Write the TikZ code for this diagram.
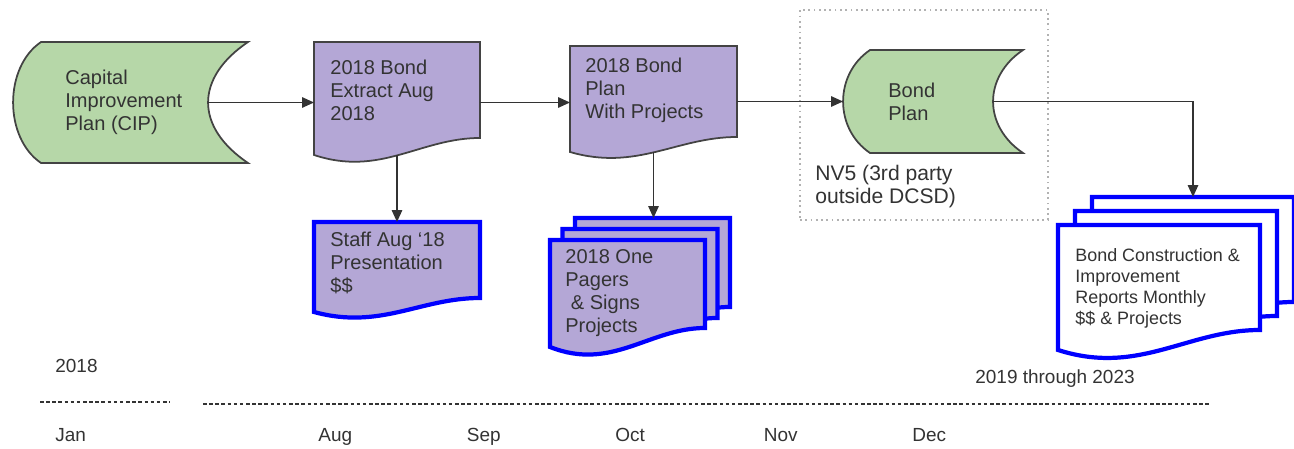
\documentclass[tikz,border=0pt]{standalone}
\usepackage{fontspec}
\setmainfont{Liberation Sans}
\usepackage{tikz}
\usetikzlibrary{calc, arrows.meta}
\definecolor{cipgreen}{RGB}{182,215,168}
\definecolor{bondpurple}{RGB}{180,167,214}
\definecolor{edgegray}{RGB}{67,67,67}
\definecolor{docblue}{RGB}{0,0,255}
\definecolor{txtgray}{RGB}{51,51,51}
\tikzstyle{box} = [rectangle, inner sep=0pt, outer sep=0pt]
\tikzstyle{stored} = [fill=cipgreen, draw=edgegray, line width=1pt]
\tikzstyle{doc} = [fill=bondpurple, draw=edgegray, line width=1pt]
\tikzstyle{bluedoc} = [fill=bondpurple, draw=docblue, line width=2.4pt]
\tikzstyle{whitedoc} = [fill=white, draw=docblue, line width=2.4pt]
\tikzstyle{txt} = [anchor=west, inner sep=0pt, align=left, text=txtgray, font=\fontsize{11.4}{13.1}\selectfont]
\tikzstyle{smalltxt} = [txt, font=\fontsize{10.2}{11.95}\selectfont]
\tikzstyle{timetxt} = [txt, text height=0.75em, text depth=0.22em, font=\fontsize{10.8}{12}\selectfont]
\tikzstyle{arrow} = [line width=0.85pt, draw=txtgray, -{Triangle[length=0.24cm, width=0.21cm]}]
\tikzstyle{timeline} = [line width=0.8pt, draw=txtgray, dash pattern=on 2pt off 1.5pt]
% stored data outline: node, left bulge, right hollow
\newcommand{\storedpath}[3]{($(#1.north west)+(#2,0)$) -- (#1.north east)
  .. controls ($(#1.north east)+(-1.33*#3,0.9*#3)$) and ($(#1.south east)+(-1.33*#3,-0.9*#3)$) .. (#1.south east)
  -- ($(#1.south west)+(#2,0)$)
  .. controls ($(#1.south west)+(-0.33*#2,-0.9*#2)$) and ($(#1.north west)+(-0.33*#2,0.9*#2)$) .. ($(#1.north west)+(#2,0)$) -- cycle}
% document outline: node, rise of the wave on the right
\newcommand{\docpath}[2]{(#1.north west) -- (#1.north east) -- ($(#1.south east)+(0,-#2)$)
  .. controls ($(#1.south west)!0.64!(#1.south east)+(0,-#2)$) and ($(#1.south west)!0.4!(#1.south east)+(0,1.3*#2)$) .. (#1.south west) -- cycle}
\begin{document}
\begin{tikzpicture}[x=0.02cm, y=-0.02cm]
    \useasboundingbox (0,0) rectangle (1294,449);

    % outlines of the shapes
    \node (cip) [box, minimum width=4.7cm, minimum height=2.42cm] at (130.5,102.5) {};
    \node (extract) [box, minimum width=3.32cm, minimum height=2.26cm] at (397,98.5) {};
    \node (plan) [box, minimum width=3.34cm, minimum height=2.12cm] at (653.5,99) {};
    \node (bondplan) [box, minimum width=3.6cm, minimum height=2.06cm] at (933,101.5) {};
    \node (staff) [box, minimum width=3.32cm, minimum height=1.8cm] at (397,267) {};
    \node (pagers) [box, minimum width=3.1cm, minimum height=2.14cm] at (627.5,293.5) {};
    \node (pagers2) [box, minimum width=3.1cm, minimum height=2.14cm] at ($(pagers)+(12.5,-11)$) {};
    \node (pagers3) [box, minimum width=3.1cm, minimum height=2.14cm] at ($(pagers)+(25,-22)$) {};
    \node (reports) [box, minimum width=4.04cm, minimum height=2.5cm] at (1159,287.5) {};
    \node (reports2) [box, minimum width=4.04cm, minimum height=2.5cm] at ($(reports)+(17,-14)$) {};
    \node (reports3) [box, minimum width=4.04cm, minimum height=2.5cm] at ($(reports)+(34,-28)$) {};
    \node (nv5) [box, draw=gray!60, line width=0.9pt, dash pattern=on 1pt off 2pt, minimum width=4.96cm, minimum height=4.2cm] at (924,115) {};

    \draw [stored] \storedpath{cip}{28}{40};
    \draw [stored] \storedpath{bondplan}{27}{30};
    \draw [doc] \docpath{extract}{17};
    \draw [doc] \docpath{plan}{15};
    \draw [bluedoc] \docpath{staff}{14};
    \draw [bluedoc] \docpath{pagers3}{18};
    \draw [bluedoc] \docpath{pagers2}{18};
    \draw [bluedoc] \docpath{pagers}{19};
    \draw [whitedoc] \docpath{reports3}{20};
    \draw [whitedoc] \docpath{reports2}{20};
    \draw [whitedoc] \docpath{reports}{20};

    % texts
    \node (cip-t) [txt] at ($(cip.west)+(52,0)$) {Capital\\Improvement\\Plan (CIP)};
    \node (extract-t) [txt] at ($(extract.west)+(16,-8)$) {2018 Bond\\Extract Aug\\2018};
    \node (plan-t) [txt] at ($(plan.west)+(15,-8.5)$) {2018 Bond\\Plan\\With Projects};
    \node (bondplan-t) [txt] at ($(bondplan.west)+(45,0.5)$) {Bond\\Plan};
    \node (nv5-t) [txt, font=\fontsize{12}{13.1}\selectfont] at ($(nv5.west)+(15,71.5)$) {NV5 (3rd party\\outside DCSD)};
    \node (staff-t) [txt] at ($(staff.west)+(16,-4)$) {Staff Aug ‘18\\Presentation\\\$\$};
    \node (pagers-t) [txt] at ($(pagers.west)+(15,-0.5)$) {2018 One\\Pagers\\\ \& Signs\\Projects};
    \node (reports-t) [smalltxt] at ($(reports.west)+(17,1)$) {Bond Construction \&\\Improvement\\Reports Monthly\\\$\$ \& Projects};

    % connectors
    \coordinate (cip-in) at ($(cip.east)+(-40,0)$);
    \coordinate (bp-in) at ($(bondplan.east)+(-30,0)$);
    \draw [arrow] (cip-in) -- (cip-in -| extract.west);
    \draw [arrow] (extract.east |- cip-in) -- (plan.west |- cip-in);
    \draw [arrow] (plan.east |- bondplan.west) -- (bondplan.west);
    \draw [arrow] (bp-in) -| (reports3.north);
    \draw [arrow] (extract.south) -- (staff.north);
    \draw [arrow] (plan.south) -- (plan.south |- pagers3.north);

    % time line
    \node (year) [timetxt] at (55,368) {2018};
    \node (later) [timetxt] at (975,379) {2019 through 2023};
    \draw [timeline] (40,402) -- (170,402);
    \draw [timeline] (203,404) -- (1210,404);
    \node (m-Jan) [timetxt] at (55,437) {Jan};
    \foreach \m [count=\i from 0] in {Aug,Sep,Oct,Nov,Dec}
        \node (m-\m) [timetxt] at (318+148.5*\i,437) {\m};
\end{tikzpicture}
\end{document}
